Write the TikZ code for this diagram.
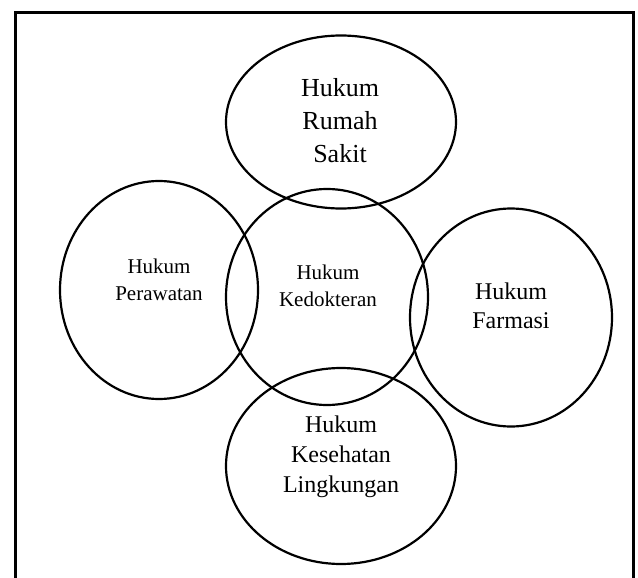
\documentclass[tikz,border=0pt]{standalone}
\usepackage{fontspec}
\setmainfont{Liberation Serif}
\usetikzlibrary{shapes.geometric}

\tikzset{
  bulat/.style={draw, ellipse, line width=2.2pt, inner sep=0pt},
  teks/.style={align=center, inner sep=0pt},
}

\begin{document}
\begin{tikzpicture}[x=1pt,y=-1pt]
      \useasboundingbox (0,0) rectangle (638,578);

      % bingkai
      \coordinate (b1) at (15.5,600);
      \coordinate (b2) at (15.5,12.5);
      \coordinate (b3) at (633.5,12.5);
      \coordinate (b4) at (633.5,600);
      \draw[line width=2.2pt] (b1) -- (b2) -- (b3) -- (b4);

      % lingkaran
      \node[bulat, minimum width=230pt, minimum height=173pt] (rs) at (341,122) {};
      \node[bulat, minimum width=198pt, minimum height=218pt] (rawat) at (159,290) {};
      \node[bulat, minimum width=202pt, minimum height=216pt] (dokter) at (327,297) {};
      \node[bulat, minimum width=202pt, minimum height=218pt] (farmasi) at (511,317.5) {};
      \node[bulat, minimum width=230pt, minimum height=196pt] (lingk) at (341,466) {};

      % teks
      \node[teks, font=\fontsize{26}{33}\selectfont] (trs) at (340,121) {Hukum\\Rumah\\Sakit};
      \node[teks, font=\fontsize{21}{27.6}\selectfont] (trawat) at (159,280) {Hukum\\Perawatan};
      \node[teks, font=\fontsize{21}{27.4}\selectfont] (tdokter) at (328,286) {Hukum\\Kedokteran};
      \node[teks, font=\fontsize{24}{29.3}\selectfont] (tfarmasi) at (511,306) {Hukum\\Farmasi};
      \node[teks, font=\fontsize{24}{30}\selectfont] (tlingk) at (341,457) {Hukum\\Kesehatan\\Lingkungan};
\end{tikzpicture}
\end{document}
